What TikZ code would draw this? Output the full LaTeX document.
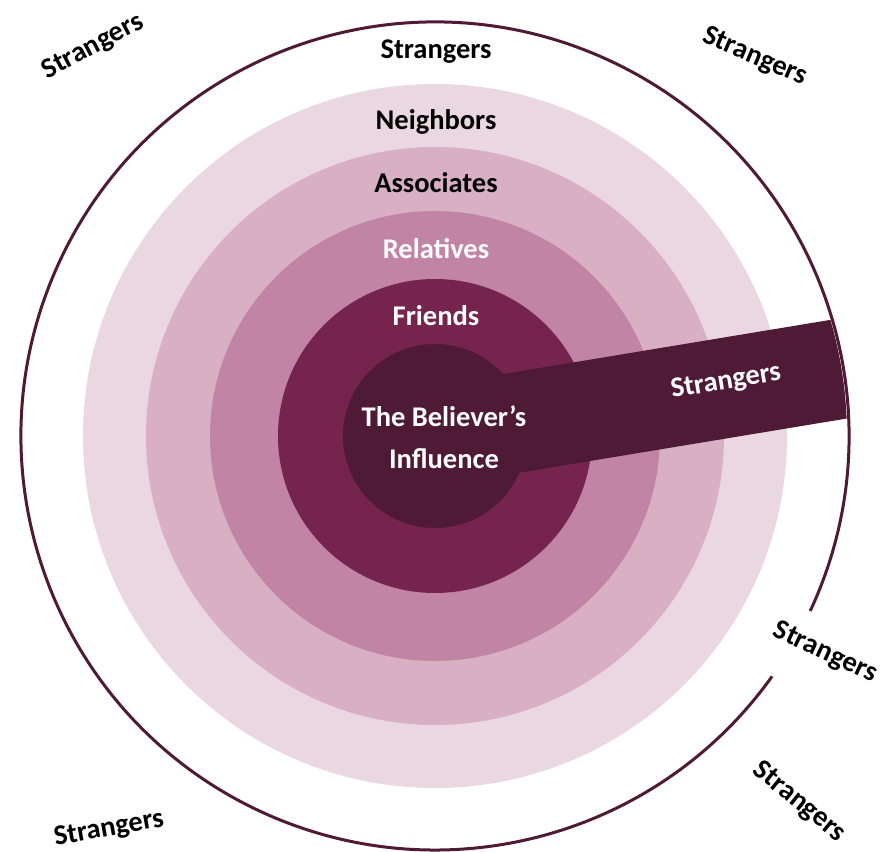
\documentclass[tikz,border=0pt]{standalone}
\usepackage{fontspec}
\setmainfont{Carlito}
\definecolor{ringneigh}{RGB}{234,215,226}
\definecolor{ringassoc}{RGB}{217,175,196}
\definecolor{ringrel}{RGB}{194,132,164}
\definecolor{ringfriend}{RGB}{116,36,77}
\definecolor{believer}{RGB}{79,26,53}
\tikzset{
  lbl/.style={font=\fontsize{28.5}{42}\selectfont\bfseries, text=black, inner sep=0pt, align=center},
  lblw/.style={lbl, text=white}
}
\begin{document}
\begin{tikzpicture}[x=1pt,y=1pt]
        \useasboundingbox (-435,-415) rectangle (445,436);

        \pgfmathsetmacro{\router}{414}
        \pgfmathsetmacro{\rbar}{50}
        \pgfmathsetmacro{\abar}{9.4}

        % rings, outside in
        \fill[ringneigh]  (0,0) circle (352);
        \fill[ringassoc]  (0,0) circle (289);
        \fill[ringrel]    (0,0) circle (225);
        \fill[ringfriend] (0,0) circle (157);

        % the band out to the strangers
        \begin{scope}
            \clip (0,0) circle (\router-2);
            \fill[believer, rotate=\abar] (0,-\rbar) rectangle ++(\router+10, 2*\rbar);
        \end{scope}
        \fill[believer] (0,0) circle (92);

        % outer ring, open at the lower right
        \draw[believer, line width=3pt] (0,0) ++(-25:\router) arc[start angle=-25, end angle=324.5, radius=\router];

        \node[lbl]  (strtop)    at (1,384)   {Strangers};
        \node[lbl]  (neighbors) at (1,314)   {Neighbors};
        \node[lbl]  (associates) at (1,253)  {Associates};
        \node[lblw] (relatives) at (1,187)   {Relatives};
        \node[lblw] (friends)   at (1,120)   {Friends};
        \node[lblw] (infl)      at (9,-1)    {The Believer’s\\Influence};
        \node[lblw, rotate=\abar] (strbar) at (291,54) {Strangers};

        \node[lbl, rotate=28]  (strtl) at (-342,389)  {Strangers};
        \node[lbl, rotate=-23] (strtr) at (320,379)   {Strangers};
        \node[lbl, rotate=-25] (strr)  at (390,-217)  {Strangers};
        \node[lbl, rotate=-39] (strbr) at (364,-366)  {Strangers};
        \node[lbl, rotate=10]  (strbl) at (-326,-393) {Strangers};
    \end{tikzpicture}
\end{document}
